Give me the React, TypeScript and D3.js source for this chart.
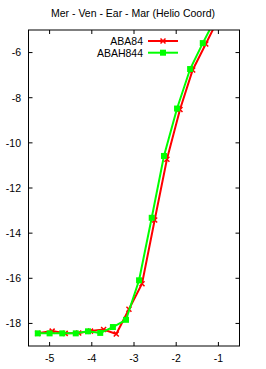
import React from 'react';
import * as d3 from 'd3';

// ABA84 (red, x markers)
const abaX = [-5.28, -4.94, -4.63, -4.31, -4.03, -3.72, -3.42, -3.12, -2.81, -2.51, -2.22, -1.91, -1.61, -1.30, -1.0];
const abaY = [-18.44, -18.34, -18.44, -18.42, -18.34, -18.27, -18.47, -17.37, -16.24, -13.42, -10.73, -8.52, -6.77, -5.62, -4.5];

// ABAH844 (green, square markers)
const abahX = [-5.28, -5.0, -4.70, -4.38, -4.09, -3.80, -3.50, -3.19, -2.88, -2.58, -2.29, -1.98, -1.67, -1.37, -1.07];
const abahY = [-18.44, -18.44, -18.44, -18.44, -18.35, -18.42, -18.16, -17.84, -16.09, -13.32, -10.58, -8.48, -6.73, -5.58, -4.5];

const xTicks = [-5, -4, -3, -2, -1];
const yTicks = [-18, -16, -14, -12, -10, -8, -6];

const W = 266;
const H = 369;
const m = { top: 30, right: 26.5, bottom: 23, left: 28.5 };

const App: React.FC = () => {
  const x = d3.scaleLinear().domain([-5.5, -0.5]).range([m.left, W - m.right]);
  const y = d3.scaleLinear().domain([-19, -5]).range([H - m.bottom, m.top]);

  const series = [
    { name: 'ABA84', xs: abaX, ys: abaY, color: '#ff0000', marker: 'x' },
    { name: 'ABAH844', xs: abahX, ys: abahY, color: '#00ff00', marker: 'sq' },
  ];

  const line = d3.line<[number, number]>().x(d => x(d[0])).y(d => y(d[1]));
  const font = '"Liberation Sans", Arial, sans-serif';
  const tk = 4;

  const marker = (kind: string, cx: number, cy: number, color: string, key: any) =>
    kind === 'x' ? (
      <path key={key} d={`M${cx - 2.5},${cy - 2.5}L${cx + 2.5},${cy + 2.5}M${cx - 2.5},${cy + 2.5}L${cx + 2.5},${cy - 2.5}`}
        stroke={color} strokeWidth={1.5} />
    ) : (
      <rect key={key} x={cx - 3} y={cy - 3} width={6} height={6} fill={color} />
    );

  return (
    <svg width={W} height={H} style={{ position: 'absolute', left: 0, top: 0, background: '#fff' }}>
      <defs>
        <clipPath id="plot">
          <rect x={m.left} y={m.top} width={W - m.left - m.right} height={H - m.top - m.bottom} />
        </clipPath>
      </defs>
      <text x={W / 2} y={17} textAnchor="middle" fontFamily={font} fontSize={10.5} fill="#000">
        Mer - Ven - Ear - Mar (Helio Coord)
      </text>

      {/* ticks */}
      {xTicks.map(t => (
        <g key={'x' + t}>
          <line x1={x(t)} x2={x(t)} y1={H - m.bottom} y2={H - m.bottom - tk} stroke="#000" />
          <line x1={x(t)} x2={x(t)} y1={m.top} y2={m.top + tk} stroke="#000" />
          <text x={x(t)} y={H - 7} textAnchor="middle" fontFamily={font} fontSize={10.5}>{t}</text>
        </g>
      ))}
      {yTicks.map(t => (
        <g key={'y' + t}>
          <line x1={m.left} x2={m.left + tk} y1={y(t)} y2={y(t)} stroke="#000" />
          <line x1={W - m.right} x2={W - m.right - tk} y1={y(t)} y2={y(t)} stroke="#000" />
          <text x={21} y={y(t) + 3.8} textAnchor="end" fontFamily={font} fontSize={10.5}>{t}</text>
        </g>
      ))}

      <g clipPath="url(#plot)">
        {series.map(s => {
          const pts = s.xs.map((v, i) => [v, s.ys[i]] as [number, number]);
          return (
            <g key={s.name}>
              <path d={line(pts) || ''} fill="none" stroke={s.color} strokeWidth={2} />
              {pts.map((p, i) => marker(s.marker, x(p[0]), y(p[1]), s.color, i))}
            </g>
          );
        })}
      </g>

      {/* legend */}
      {series.map((s, i) => {
        const ly = 41 + i * 11.7;
        return (
          <g key={'lg' + s.name}>
            <text x={143} y={ly + 3.8} textAnchor="end" fontFamily={font} fontSize={10.5}>{s.name}</text>
            <line x1={148} x2={178} y1={ly} y2={ly} stroke={s.color} strokeWidth={2} />
            {marker(s.marker, 163, ly, s.color, 'm')}
          </g>
        );
      })}

      <rect x={m.left} y={m.top} width={W - m.left - m.right} height={H - m.top - m.bottom}
        fill="none" stroke="#000" strokeWidth={1} />
    </svg>
  );
};

export default App;
